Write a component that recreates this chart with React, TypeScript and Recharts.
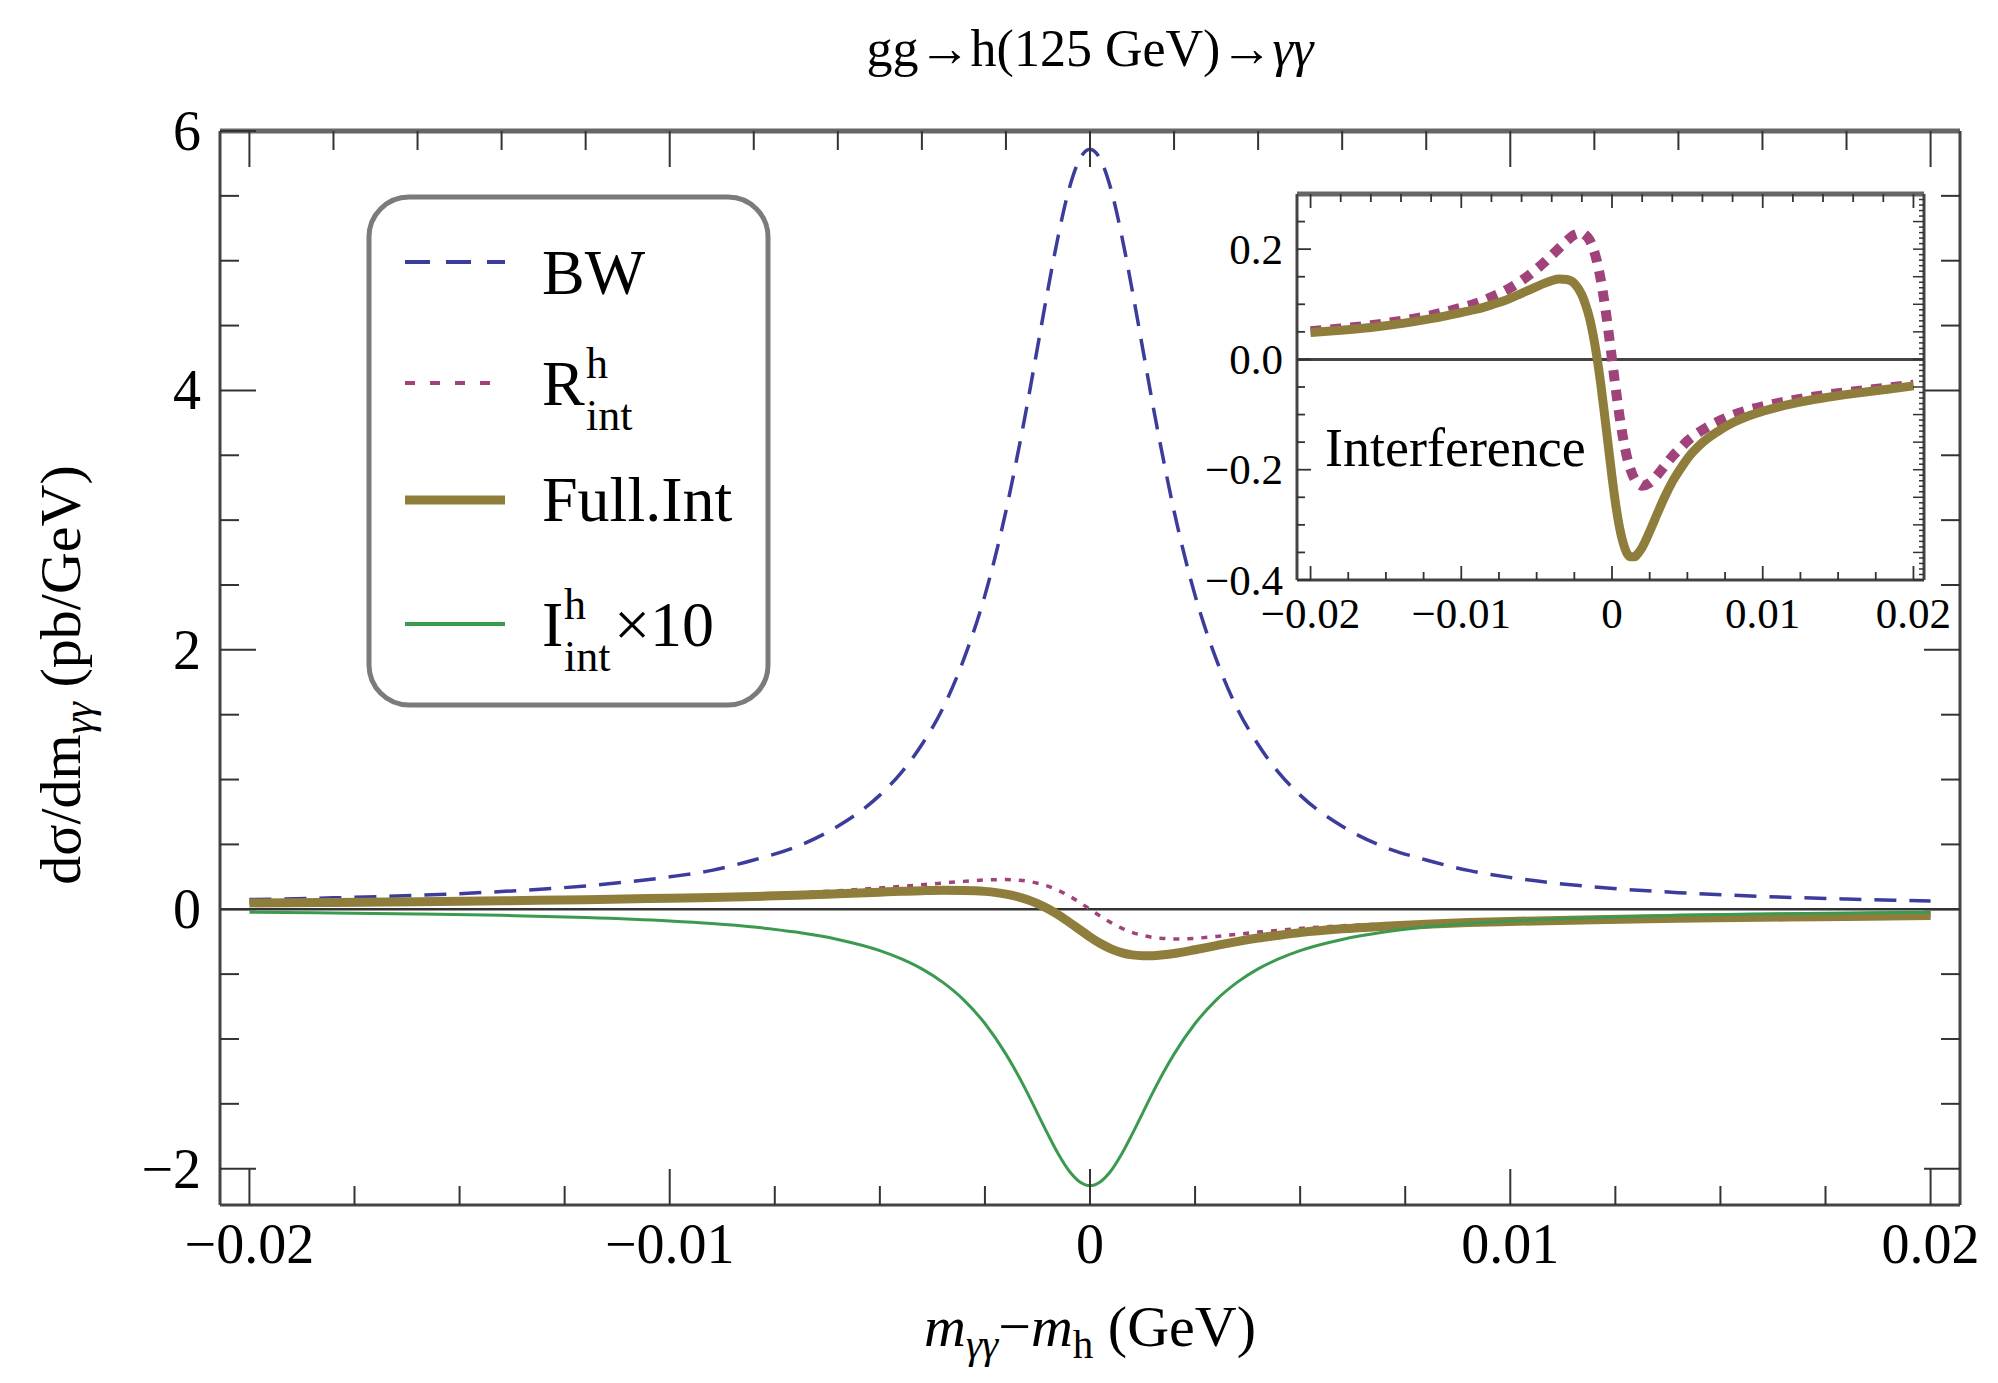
import React from 'react';
import { LineChart, Line, XAxis, YAxis, ReferenceLine } from 'recharts';

// m_yy - m_h sample points (GeV)
const xs = [
  -0.02, -0.018, -0.016, -0.014, -0.012, -0.01, -0.009, -0.008, -0.007, -0.006, -0.005, -0.0045,
  -0.004, -0.0035, -0.003, -0.0025, -0.002, -0.00175, -0.0015, -0.00125, -0.001, -0.00075, -0.0005,
  -0.00025, 0, 0.00025, 0.0005, 0.00075, 0.001, 0.00125, 0.0015, 0.00175, 0.002, 0.0025, 0.003,
  0.0035, 0.004, 0.0045, 0.005, 0.006, 0.007, 0.008, 0.009, 0.01, 0.012, 0.014, 0.016, 0.018, 0.02,
];

// Breit-Wigner
const bw = [
  0.075, 0.088, 0.107, 0.137, 0.18, 0.25, 0.3, 0.38, 0.48, 0.64, 0.88, 1.05,
  1.27, 1.55, 1.93, 2.42, 3.07, 3.46, 3.88, 4.33, 4.78, 5.2, 5.55,
  5.78, 5.86, 5.78, 5.55, 5.2, 4.78, 4.33, 3.88, 3.46, 3.07, 2.42, 1.93,
  1.55, 1.27, 1.05, 0.88, 0.64, 0.48, 0.38, 0.3, 0.245, 0.172, 0.128, 0.099, 0.079, 0.064,
];

// R^h_int
const rInt = [
  0.051, 0.056, 0.062, 0.07, 0.08, 0.094, 0.102, 0.113, 0.126, 0.143, 0.164, 0.176,
  0.189, 0.202, 0.215, 0.226, 0.229, 0.225, 0.217, 0.201, 0.178, 0.145, 0.103,
  0.054, 0, -0.054, -0.103, -0.145, -0.178, -0.201, -0.217, -0.225, -0.229, -0.224, -0.21,
  -0.193, -0.176, -0.162, -0.148, -0.128, -0.113, -0.101, -0.092, -0.085, -0.074, -0.065, -0.058, -0.052, -0.046,
];

// Full interference
const fullInt = [
  0.049, 0.053, 0.058, 0.065, 0.074, 0.085, 0.091, 0.099, 0.108, 0.12, 0.132, 0.138,
  0.143, 0.146, 0.145, 0.138, 0.117, 0.099, 0.076, 0.044, 0.004, -0.044, -0.099,
  -0.156, -0.213, -0.264, -0.305, -0.334, -0.352, -0.358, -0.358, -0.351, -0.341, -0.312, -0.28,
  -0.249, -0.222, -0.2, -0.18, -0.151, -0.131, -0.115, -0.103, -0.094, -0.08, -0.07, -0.062, -0.055, -0.048,
];

// I^h_int x 10
const iInt10 = [
  -0.023, -0.029, -0.036, -0.047, -0.063, -0.09, -0.11, -0.137, -0.176, -0.233, -0.319, -0.381,
  -0.46, -0.564, -0.7, -0.881, -1.117, -1.257, -1.41, -1.573, -1.736, -1.889, -2.016,
  -2.1, -2.13, -2.1, -2.016, -1.889, -1.736, -1.573, -1.41, -1.257, -1.117, -0.881, -0.7,
  -0.564, -0.46, -0.381, -0.319, -0.233, -0.176, -0.137, -0.11, -0.09, -0.063, -0.047, -0.036, -0.029, -0.023,
];

const xMajor = [-0.02, -0.01, 0, 0.01, 0.02];
const xLabels = ['\u22120.02', '\u22120.01', '0', '0.01', '0.02'];
const mainYMajor = [-2, 0, 2, 4, 6];
const mainYLabels = ['\u22122', '0', '2', '4', '6'];
const insetYMajor = [-0.4, -0.2, 0, 0.2];
const insetYLabels = ['\u22120.4', '\u22120.2', '0.0', '0.2'];

const data = xs.map((x, i) => ({ x, bw: bw[i], r: rInt[i], full: fullInt[i], im: iInt10[i] }));

const FONT = "'Liberation Serif', 'Times New Roman', serif";
const C_BW = '#3c3c9c';
const C_R = '#a0437b';
const C_FULL = '#8f7e3b';
const C_IM = '#3c9a50';

const range = (a: number, b: number, s: number) => {
  const n = Math.round((b - a) / s);
  return Array.from({ length: n + 1 }, (_, i) => +(a + i * s).toFixed(6));
};

type Side = 'bottom' | 'top' | 'left' | 'right';

const makeTick =
  (side: Side, majors: number[], labels: string[] | null, majorLen: number, minorLen: number, fontSize: number, gap: number, sw: number) =>
  (props: any) => {
    const { x, y, payload } = props;
    const idx = majors.findIndex((m) => Math.abs(m - payload.value) < 1e-9);
    const len = idx >= 0 ? majorLen : minorLen;
    const dir = side === 'bottom' || side === 'right' ? -1 : 1;
    const vertical = side === 'bottom' || side === 'top';
    const label = labels && idx >= 0 ? labels[idx] : null;
    return (
      <g>
        {vertical ? (
          <line x1={x} x2={x} y1={y} y2={y + dir * len} stroke="#333" strokeWidth={sw} />
        ) : (
          <line x1={x} x2={x + dir * len} y1={y} y2={y} stroke="#333" strokeWidth={sw} />
        )}
        {label && side === 'bottom' && (
          <text x={x} y={y + gap + 0.68 * fontSize} textAnchor="middle" fontSize={fontSize} fontFamily={FONT} fill="#000">
            {label}
          </text>
        )}
        {label && side === 'left' && (
          <text x={x - gap} y={y + 0.34 * fontSize} textAnchor="end" fontSize={fontSize} fontFamily={FONT} fill="#000">
            {label}
          </text>
        )}
      </g>
    );
  };

const MAIN_X = [-0.0207, 0.0207];
const MAIN_Y = [-2.28, 6];
const INSET_X = [-0.0209, 0.0207];
const INSET_Y = [-0.4, 0.3];

const App = () => {
  return (
    <div style={{ position: 'absolute', left: 0, top: 0, width: 1998, height: 1383, background: '#fff' }}>
      {/* main plot */}
      <div style={{ position: 'absolute', left: 0, top: 0 }}>
        <LineChart width={1998} height={1383} data={data} margin={{ top: 121, right: 28, bottom: 168, left: 210 }}>
          <XAxis
            xAxisId="b"
            dataKey="x"
            type="number"
            domain={MAIN_X}
            allowDataOverflow
            ticks={range(-0.02, 0.02, 0.0025)}
            interval={0}
            height={10}
            tickSize={0}
            tickMargin={0}
            tickLine={false}
            axisLine={{ stroke: '#444', strokeWidth: 3 }}
            tick={makeTick('bottom', xMajor, xLabels, 36, 19, 56, 20, 2)}
          />
          <XAxis
            xAxisId="t"
            orientation="top"
            dataKey="x"
            type="number"
            domain={MAIN_X}
            allowDataOverflow
            ticks={range(-0.02, 0.02, 0.002)}
            interval={0}
            height={10}
            tickSize={0}
            tickMargin={0}
            tickLine={false}
            axisLine={{ stroke: '#666', strokeWidth: 5 }}
            tick={makeTick('top', xMajor, null, 36, 19, 56, 20, 2)}
          />
          <YAxis
            yAxisId="l"
            type="number"
            domain={MAIN_Y}
            allowDataOverflow
            ticks={range(-2, 6, 0.5)}
            interval={0}
            width={10}
            tickSize={0}
            tickMargin={0}
            tickLine={false}
            axisLine={{ stroke: '#444', strokeWidth: 3 }}
            tick={makeTick('left', mainYMajor, mainYLabels, 36, 19, 56, 19, 2)}
          />
          <YAxis
            yAxisId="r"
            orientation="right"
            type="number"
            domain={MAIN_Y}
            allowDataOverflow
            ticks={range(-2, 5.5, 0.5)}
            interval={0}
            width={10}
            tickSize={0}
            tickMargin={0}
            tickLine={false}
            axisLine={{ stroke: '#444', strokeWidth: 3 }}
            tick={makeTick('right', mainYMajor, null, 36, 19, 56, 19, 2)}
          />
          <ReferenceLine xAxisId="b" yAxisId="l" y={0} stroke="#333" strokeWidth={2.5} />
          <Line xAxisId="b" yAxisId="l" type="monotone" dataKey="bw" stroke={C_BW} strokeWidth={3.5} strokeDasharray="22 13" dot={false} isAnimationActive={false} />
          <Line xAxisId="b" yAxisId="l" type="monotone" dataKey="r" stroke={C_R} strokeWidth={3.5} strokeDasharray="6 8" dot={false} isAnimationActive={false} />
          <Line xAxisId="b" yAxisId="l" type="monotone" dataKey="full" stroke={C_FULL} strokeWidth={9} dot={false} isAnimationActive={false} />
          <Line xAxisId="b" yAxisId="l" type="monotone" dataKey="im" stroke={C_IM} strokeWidth={3} dot={false} isAnimationActive={false} />
        </LineChart>
      </div>

      {/* inset */}
      <div style={{ position: 'absolute', left: 1180, top: 150 }}>
        <LineChart width={800} height={500} data={data} margin={{ top: 34, right: 46, bottom: 60, left: 107 }}>
          <XAxis
            xAxisId="b"
            dataKey="x"
            type="number"
            domain={INSET_X}
            allowDataOverflow
            ticks={range(-0.02, 0.02, 0.0025)}
            interval={0}
            height={10}
            tickSize={0}
            tickMargin={0}
            tickLine={false}
            axisLine={{ stroke: '#444', strokeWidth: 3 }}
            tick={makeTick('bottom', xMajor, xLabels, 14, 8, 43, 19, 1.8)}
          />
          <XAxis
            xAxisId="t"
            orientation="top"
            dataKey="x"
            type="number"
            domain={INSET_X}
            allowDataOverflow
            ticks={range(-0.02, 0.02, 0.002)}
            interval={0}
            height={10}
            tickSize={0}
            tickMargin={0}
            tickLine={false}
            axisLine={{ stroke: '#666', strokeWidth: 5 }}
            tick={makeTick('top', xMajor, null, 14, 8, 43, 19, 1.8)}
          />
          <YAxis
            yAxisId="l"
            type="number"
            domain={INSET_Y}
            allowDataOverflow
            ticks={range(-0.4, 0.25, 0.05)}
            interval={0}
            width={10}
            tickSize={0}
            tickMargin={0}
            tickLine={false}
            axisLine={{ stroke: '#444', strokeWidth: 3 }}
            tick={makeTick('left', insetYMajor, insetYLabels, 14, 8, 43, 14, 1.8)}
          />
          <YAxis
            yAxisId="r"
            orientation="right"
            type="number"
            domain={INSET_Y}
            allowDataOverflow
            ticks={range(-0.4, 0.29, 0.01)}
            interval={0}
            width={10}
            tickSize={0}
            tickMargin={0}
            tickLine={false}
            axisLine={{ stroke: '#444', strokeWidth: 3 }}
            tick={makeTick('right', range(-0.4, 0.25, 0.05), null, 11, 5, 43, 14, 1.5)}
          />
          <ReferenceLine xAxisId="b" yAxisId="l" y={0} stroke="#444" strokeWidth={3} />
          <Line xAxisId="b" yAxisId="l" type="monotone" dataKey="r" stroke={C_R} strokeWidth={10} strokeDasharray="11 9" dot={false} isAnimationActive={false} />
          <Line xAxisId="b" yAxisId="l" type="monotone" dataKey="full" stroke={C_FULL} strokeWidth={9} dot={false} isAnimationActive={false} />
        </LineChart>
      </div>

      {/* texts and legend */}
      <svg width={1998} height={1383} style={{ position: 'absolute', left: 0, top: 0, pointerEvents: 'none' }} fontFamily={FONT}>
        <text x={1090} y={66} fontSize={52} textAnchor="middle" fill="#000">
          gg→h(125 GeV)→<tspan fontStyle="italic">γγ</tspan>
        </text>
        <text x={1090} y={1346} fontSize={58} textAnchor="middle" fill="#000">
          <tspan fontStyle="italic">m</tspan>
          <tspan fontStyle="italic" fontSize={41} dy={12}>γγ</tspan>
          <tspan dy={-12}>−</tspan>
          <tspan fontStyle="italic">m</tspan>
          <tspan fontSize={41} dy={12}>h</tspan>
          <tspan dy={-12}>{'\u00A0(GeV)'}</tspan>
        </text>
        <text transform="translate(80,675) rotate(-90)" fontSize={58} textAnchor="middle" fill="#000">
          dσ/dm
          <tspan fontStyle="italic" fontSize={41} dy={12}>γγ</tspan>
          <tspan dy={-12}>{'\u00A0(pb/GeV)'}</tspan>
        </text>
        <text x={1325} y={466} fontSize={54} fill="#000">Interference</text>

        <rect x={369} y={197} width={399} height={508} rx={40} fill="#fff" stroke="#7b7b7b" strokeWidth={5} />
        <line x1={405} x2={505} y1={262} y2={262} stroke={C_BW} strokeWidth={4} strokeDasharray="25 16" />
        <text x={542} y={294} fontSize={64} fill="#000">BW</text>
        <line x1={405} x2={505} y1={383} y2={383} stroke={C_R} strokeWidth={4} strokeDasharray="10 15" />
        <text x={542} y={405} fontSize={64} fill="#000">R</text>
        <text x={586} y={378} fontSize={44} fill="#000">h</text>
        <text x={586} y={430} fontSize={44} fill="#000">int</text>
        <line x1={405} x2={505} y1={500} y2={500} stroke={C_FULL} strokeWidth={9} />
        <text x={542} y={521} fontSize={64} fill="#000">Full.Int</text>
        <line x1={405} x2={505} y1={624} y2={624} stroke={C_IM} strokeWidth={4} />
        <text x={542} y={646} fontSize={64} fill="#000">I</text>
        <text x={564} y={619} fontSize={44} fill="#000">h</text>
        <text x={564} y={671} fontSize={44} fill="#000">int</text>
        <text x={614} y={646} fontSize={64} fill="#000">×10</text>
      </svg>
    </div>
  );
};

export default App;
